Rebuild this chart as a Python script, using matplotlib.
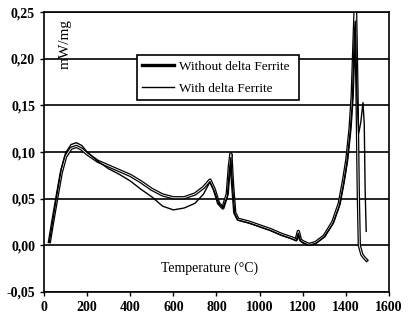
import numpy as np
import matplotlib
matplotlib.use("Agg")
import matplotlib.pyplot as plt

# temperature (C) and heat flow (mW/mg)
temp_a = [25, 40, 60, 80, 100, 125, 150, 175, 200, 250, 300, 350, 400, 450,
          500, 550, 600, 650, 700, 740, 770, 790, 810, 830, 850, 860, 867,
          875, 885, 900, 950, 1000, 1050, 1100, 1150, 1170, 1180, 1190, 1200,
          1230, 1260, 1300, 1340, 1370, 1390, 1405, 1420, 1430, 1440, 1445,
          1452, 1458, 1463, 1475, 1485, 1497]
without_df = [0.004, 0.025, 0.052, 0.078, 0.095, 0.104, 0.106, 0.103, 0.098,
              0.090, 0.085, 0.080, 0.075, 0.068, 0.060, 0.054, 0.051, 0.051,
              0.055, 0.062, 0.070, 0.060, 0.045, 0.040, 0.055, 0.085, 0.098,
              0.065, 0.035, 0.028, 0.025, 0.021, 0.017, 0.012, 0.008, 0.006,
              0.015, 0.006, 0.004, 0.001, 0.003, 0.010, 0.025, 0.045, 0.070,
              0.092, 0.125, 0.160, 0.230, 0.262, 0.170, 0.060, 0.000, -0.010,
              -0.013, -0.016]

temp_b = [25, 40, 60, 80, 100, 125, 150, 175, 200, 250, 300, 350, 400, 450,
          500, 550, 600, 650, 700, 740, 770, 790, 810, 830, 850, 860, 867,
          875, 885, 900, 950, 1000, 1050, 1100, 1150, 1170, 1180, 1190, 1200,
          1230, 1260, 1300, 1340, 1370, 1390, 1405, 1420, 1430, 1440, 1445,
          1452, 1460, 1470, 1480, 1486, 1490, 1495]
with_df = [0.004, 0.026, 0.055, 0.082, 0.099, 0.108, 0.110, 0.107, 0.100,
           0.090, 0.082, 0.076, 0.069, 0.060, 0.052, 0.042, 0.038, 0.040,
           0.045, 0.055, 0.068, 0.058, 0.045, 0.040, 0.052, 0.080, 0.094,
           0.062, 0.034, 0.027, 0.024, 0.020, 0.016, 0.011, 0.007, 0.005,
           0.013, 0.005, 0.003, 0.000, 0.002, 0.009, 0.023, 0.042, 0.066,
           0.088, 0.120, 0.150, 0.225, 0.240, 0.160, 0.120, 0.132, 0.153,
           0.130, 0.060, 0.015]

yticks = [-0.05, 0.0, 0.05, 0.10, 0.15, 0.20, 0.25]
xticks = [0, 200, 400, 600, 800, 1000, 1200, 1400, 1600]

plt.rcParams['font.family'] = ['Liberation Serif', 'DejaVu Serif']

fig = plt.figure(figsize=(4.08, 3.25), dpi=100)
ax = fig.add_axes([0.108, 0.1015, 0.845, 0.8615])

ax.plot(temp_a, without_df, color="black", lw=2.4,
        label="Without delta Ferrite")
ax.plot(temp_a, without_df, color="white", lw=0.6)
ax.plot(temp_b, with_df, color="black", lw=1.0, label="With delta Ferrite")

ax.set_xlim(0, 1600)
ax.set_ylim(-0.05, 0.25)
ax.set_xticks(xticks, labels=[str(t) for t in xticks])
ax.set_yticks(yticks, labels=[f"{v:.2f}".replace(".", ",") for v in yticks])
ax.tick_params(labelsize=10, length=3, width=1, colors="black")
for lab in ax.get_yticklabels() + ax.get_xticklabels():
    lab.set_fontweight("bold")
ax.yaxis.grid(True, color="black", lw=1.2)
for s in ax.spines.values():
    s.set_linewidth(1.2)

ax.text(0.06, 0.885, "mW/mg", transform=ax.transAxes, rotation=90,
        fontsize=11, ha="center", va="center")
ax.text(0.48, 0.084, "Temperature (\u00b0C)", transform=ax.transAxes,
        fontsize=10, ha="center", va="center")

leg = ax.legend(loc="upper left", bbox_to_anchor=(0.27, 0.69, 0.47, 0.156),
                mode="expand", fancybox=False, edgecolor="black",
                framealpha=1, fontsize=9.5, handlelength=2.4,
                handletextpad=0.4, borderaxespad=0, labelspacing=0.75)
leg.get_frame().set_linewidth(1.2)

fig.savefig("out.png", dpi=100)
